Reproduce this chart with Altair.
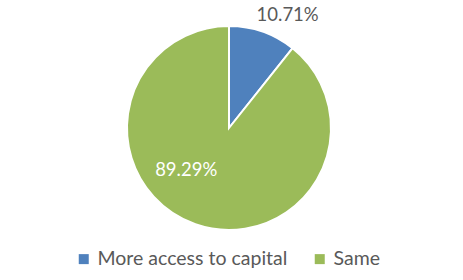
import altair as alt
import pandas as pd

categories = ["More access to capital", "Same"]
values = [10.71, 89.29]
labels = ["10.71%", "89.29%"]
colors = ["#4F81BD", "#9BBB59"]

df = pd.DataFrame({"category": categories, "value": values, "label": labels, "order": [0, 1]})

FONT = "Lato"
CX, CY = 229, 128

base = alt.Chart(df).encode(
    theta=alt.Theta("value:Q", stack=True),
    order=alt.Order("order:Q"),
    x=alt.value(CX), y=alt.value(CY),
)

pie = base.mark_arc(outerRadius=102, stroke="white", strokeWidth=2).encode(
    color=alt.Color(
        "category:N",
        scale=alt.Scale(domain=categories, range=colors),
        legend=alt.Legend(
            title=None, orient="none", direction="horizontal",
            legendX=74, legendY=249, symbolType="square", symbolSize=100,
            symbolStrokeWidth=0, labelFont=FONT, labelFontSize=19.5, labelLimit=400,
            labelColor="#595959", columnPadding=22, labelOffset=4, padding=0,
        ),
    ),
)

outside = base.mark_text(
    radius=120, font=FONT, fontSize=18.5, color="#595959", dx=19
).encode(
    text=alt.condition(alt.datum.category == categories[0], "label:N", alt.value(""))
)

inside = base.mark_text(
    radius=60, font=FONT, fontSize=18.5, color="white", dx=-23, dy=-15
).encode(
    text=alt.condition(alt.datum.category == categories[1], "label:N", alt.value(""))
)

chart = alt.layer(pie, outside, inside).properties(
    width=463, height=280, autosize=alt.AutoSizeParams(type="none"), padding=0
).configure_view(stroke=None)

chart.save("out.html", embed_options={"renderer": "svg", "actions": False})
